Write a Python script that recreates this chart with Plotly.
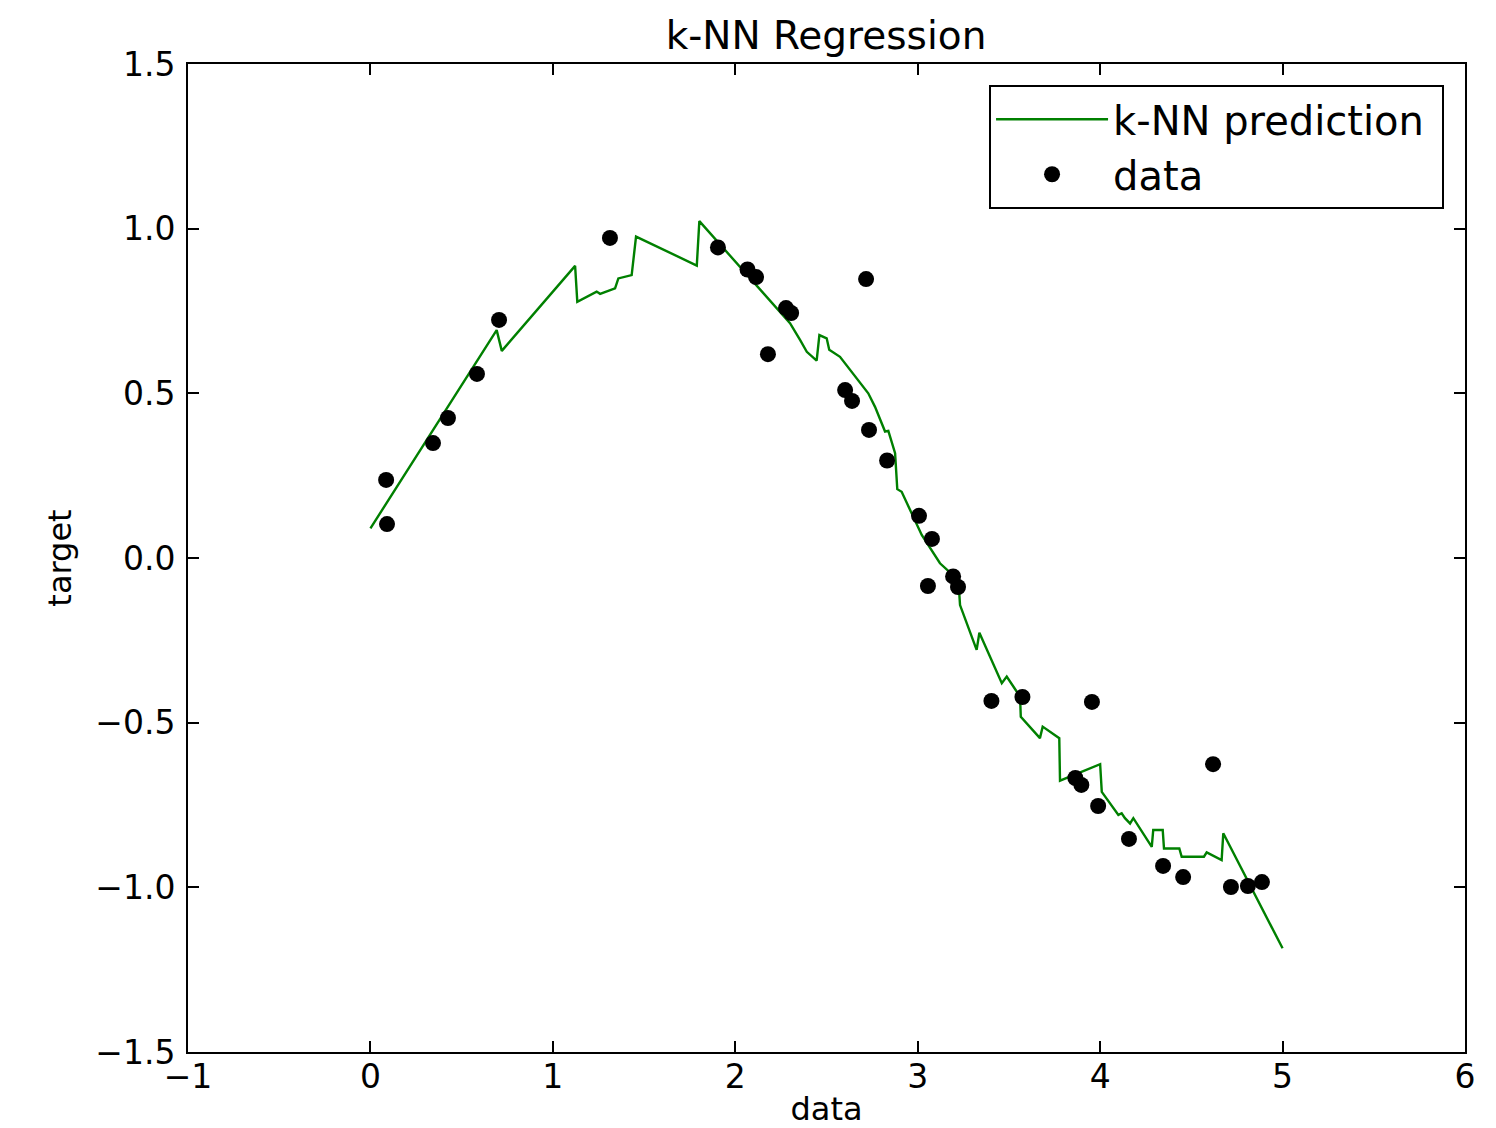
import plotly.graph_objects as go

# scattered data points
data_x = [0.086, 0.091, 0.343, 0.425, 0.584, 0.705, 1.313, 1.905, 2.067, 2.114,
          2.179, 2.278, 2.306, 2.602, 2.640, 2.717, 2.733, 2.832, 3.007, 3.056,
          3.078, 3.194, 3.221, 3.404, 3.574, 3.864, 3.897, 3.955, 3.989, 4.158,
          4.345, 4.455, 4.619, 4.717, 4.810, 4.887]
data_y = [0.237, 0.103, 0.349, 0.425, 0.559, 0.723, 0.972, 0.943, 0.876, 0.853,
          0.619, 0.759, 0.744, 0.510, 0.477, 0.847, 0.389, 0.296, 0.128, -0.085,
          0.058, -0.056, -0.088, -0.434, -0.422, -0.668, -0.689, -0.437, -0.753, -0.853,
          -0.935, -0.969, -0.626, -0.999, -0.996, -0.984]

# k-NN prediction line
pred_x = [0.000, 0.692, 0.720, 1.122, 1.134, 1.240, 1.259, 1.341, 1.359, 1.432,
          1.456, 1.789, 1.803, 2.300, 2.355, 2.392, 2.446, 2.461, 2.501, 2.515,
          2.574, 2.729, 2.766, 2.821, 2.839, 2.876, 2.888, 2.912, 3.022, 3.122,
          3.223, 3.232, 3.323, 3.338, 3.461, 3.488, 3.561, 3.565, 3.670, 3.685,
          3.776, 3.780, 4.000, 4.009, 4.100, 4.118, 4.136, 4.164, 4.182, 4.283,
          4.291, 4.343, 4.350, 4.434, 4.447, 4.569, 4.584, 4.666, 4.675, 5.000]
pred_y = [0.090, 0.692, 0.629, 0.887, 0.778, 0.809, 0.802, 0.819, 0.849, 0.859,
          0.976, 0.888, 1.023, 0.713, 0.662, 0.626, 0.599, 0.677, 0.667, 0.632,
          0.611, 0.500, 0.459, 0.384, 0.386, 0.318, 0.209, 0.201, 0.070, -0.016,
          -0.067, -0.143, -0.279, -0.227, -0.380, -0.360, -0.421, -0.482, -0.547, -0.512,
          -0.547, -0.676, -0.626, -0.710, -0.780, -0.775, -0.790, -0.806, -0.790, -0.877,
          -0.826, -0.826, -0.882, -0.882, -0.907, -0.907, -0.894, -0.917, -0.836, -1.185]

x_ticks = [-1, 0, 1, 2, 3, 4, 5, 6]
y_ticks = [-1.5, -1.0, -0.5, 0.0, 0.5, 1.0, 1.5]

FONT = "DejaVu Sans"
NBSP = "\u00a0"

fig = go.Figure()
fig.add_trace(go.Scatter(x=pred_x, y=pred_y, mode="lines", name="k-NN prediction" + NBSP,
                         line=dict(color="#008000", width=2.4)))
fig.add_trace(go.Scatter(x=data_x, y=data_y, mode="markers", name="data",
                         marker=dict(color="black", size=16, line=dict(width=0))))

axis_common = dict(showline=True, linecolor="black", linewidth=2, mirror="ticks",
                   ticks="inside", ticklen=11, tickwidth=1.5, tickcolor="black",
                   showgrid=False, zeroline=False, automargin=False,
                   tickfont=dict(family=FONT, size=33, color="black"))

fig.update_layout(
    width=1488, height=1120,
    margin=dict(l=180, r=31, t=56, b=76),
    paper_bgcolor="white", plot_bgcolor="white",
    font=dict(family=FONT, color="black"),
    title=dict(text="k-NN Regression", x=818 / 1488, xanchor="center",
               y=1 - 27 / 1120, yanchor="middle", yref="container",
               font=dict(family=FONT, size=39, color="black")),
    xaxis=dict(range=[-1, 6], tickvals=x_ticks, tickformat="d", ticklabelstandoff=-6,
               title=dict(text="data", font=dict(family=FONT, size=32), standoff=9),
               **axis_common),
    yaxis=dict(range=[-1.5, 1.5], tickvals=y_ticks, tickformat=".1f", ticklabelstandoff=4,
               title=dict(text="target", font=dict(family=FONT, size=32), standoff=14),
               **axis_common),
    legend=dict(x=0.9836, xanchor="right", y=0.979, yanchor="top",
                bgcolor="white", bordercolor="black", borderwidth=2,
                font=dict(family=FONT, size=40, color="black"),
                itemwidth=112, tracegroupgap=0),
    showlegend=True,
)

fig.write_html("out.html")
